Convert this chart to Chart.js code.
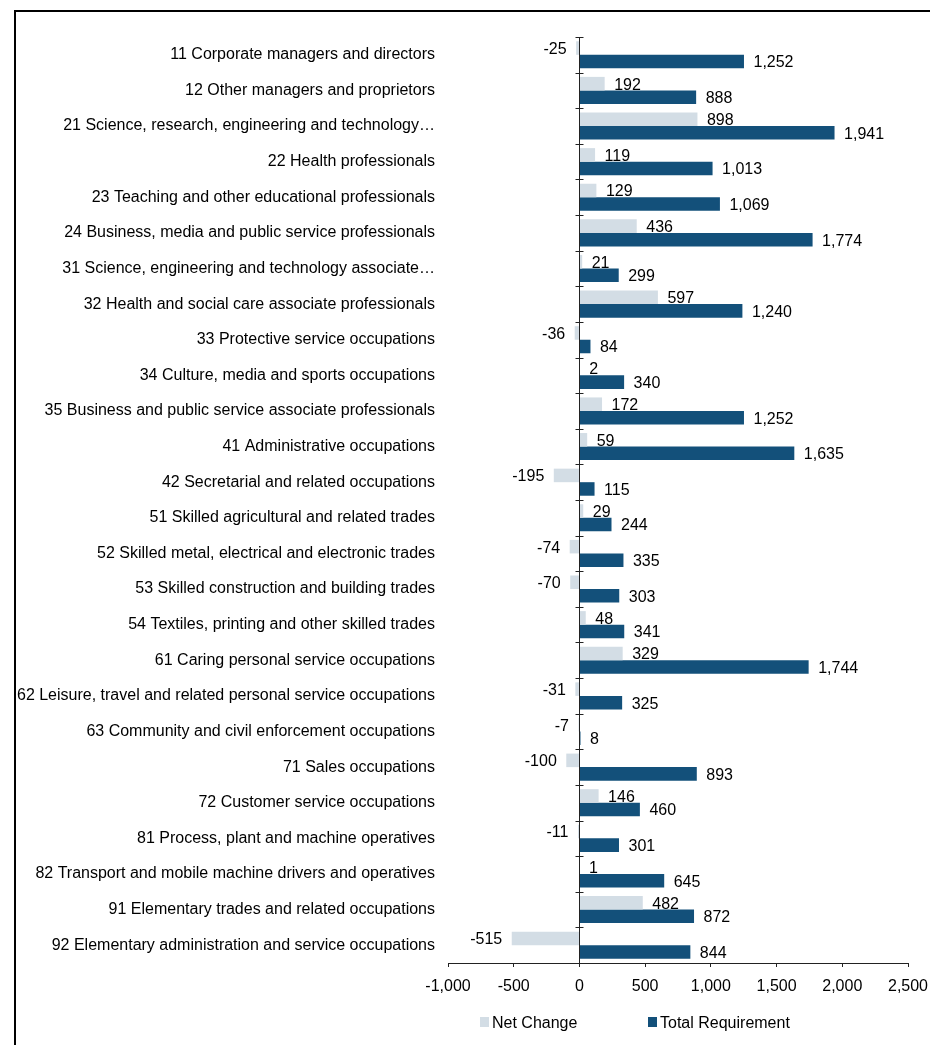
<!DOCTYPE html>
<html>
<head>
<meta charset="utf-8">
<script src="https://cdn.jsdelivr.net/npm/chart.js@4.4.1/dist/chart.umd.min.js"></script>
<style>
  body { margin: 0; background: #fff; overflow: hidden; font-family: 'Liberation Sans', Arial, sans-serif; }
  #frame { position: absolute; left: 14px; top: 10px; width: 1000px; height: 1100px; border-top: 2px solid #000; border-left: 2px solid #000; }
  #wrap { position: absolute; left: 0; top: 0; width: 930px; height: 1045px; }
  .lg-box { position: absolute; top: 1017px; width: 9px; height: 10px; }
  .lg-text { position: absolute; top: 1014px; font-size: 16px; line-height: 18px; color: #000; white-space: nowrap; }
</style>
</head>
<body>
<div id="frame"></div>
<div id="wrap"><canvas id="chart" width="930" height="1045"></canvas></div>
<div id="legend"></div>
<script>
// 数据
const categories = [
  '11 Corporate managers and directors',
  '12 Other managers and proprietors',
  '21 Science, research, engineering and technology\u2026',
  '22 Health professionals',
  '23 Teaching and other educational professionals',
  '24 Business, media and public service professionals',
  '31 Science, engineering and technology associate\u2026',
  '32 Health and social care associate professionals',
  '33 Protective service occupations',
  '34 Culture, media and sports occupations',
  '35 Business and public service associate professionals',
  '41 Administrative occupations',
  '42 Secretarial and related occupations',
  '51 Skilled agricultural and related trades',
  '52 Skilled metal, electrical and electronic trades',
  '53 Skilled construction and building trades',
  '54 Textiles, printing and other skilled trades',
  '61 Caring personal service occupations',
  '62 Leisure, travel and related personal service occupations',
  '63 Community and civil enforcement occupations',
  '71 Sales occupations',
  '72 Customer service occupations',
  '81 Process, plant and machine operatives',
  '82 Transport and mobile machine drivers and operatives',
  '91 Elementary trades and related occupations',
  '92 Elementary administration and service occupations'
];
const netChange = [-25, 192, 898, 119, 129, 436, 21, 597, -36, 2, 172, 59, -195, 29, -74, -70, 48, 329, -31, -7, -100, 146, -11, 1, 482, -515];
const totalRequirement = [1252, 888, 1941, 1013, 1069, 1774, 299, 1240, 84, 340, 1252, 1635, 115, 244, 335, 303, 341, 1744, 325, 8, 893, 460, 301, 645, 872, 844];
const seriesNames = ['Net Change', 'Total Requirement'];
const seriesColors = ['#d3dde5', '#13507a'];
const xTicks = [-1000, -500, 0, 500, 1000, 1500, 2000, 2500];

const FONT = "'Liberation Sans', Arial, sans-serif";
const fmt = v => v.toLocaleString('en-US');

// 数据标签
const barLabels = {
  id: 'barLabels',
  afterDatasetsDraw(chart) {
    const ctx = chart.ctx;
    ctx.save();
    ctx.font = '16px ' + FONT;
    ctx.fillStyle = '#000';
    ctx.textBaseline = 'middle';
    chart.data.datasets.forEach((ds, di) => {
      chart.getDatasetMeta(di).data.forEach((bar, i) => {
        const v = ds.data[i];
        if (v < 0) {
          ctx.textAlign = 'right';
          ctx.fillText(fmt(v), bar.x - 9.5, bar.y + 1.5);
        } else {
          ctx.textAlign = 'left';
          ctx.fillText(fmt(v), bar.x + 9.5, bar.y + 1.5);
        }
      });
    });
    ctx.restore();
  }
};

// 零点处的分类轴和刻度
const zeroAxis = {
  id: 'zeroAxis',
  afterDatasetsDraw(chart) {
    const { ctx, chartArea, scales } = chart;
    const x0 = Math.round(scales.x.getPixelForValue(0)) + 0.5;
    const step = (chartArea.bottom - chartArea.top) / categories.length;
    ctx.save();
    ctx.strokeStyle = '#222';
    ctx.lineWidth = 1;
    ctx.beginPath();
    ctx.moveTo(x0, chartArea.top);
    ctx.lineTo(x0, chartArea.bottom);
    for (let i = 0; i < categories.length; i++) {
      const yy = Math.round(chartArea.top + i * step) + 0.5;
      ctx.moveTo(x0 - 4, yy);
      ctx.lineTo(x0 + 4, yy);
    }
    ctx.stroke();
    ctx.restore();
  }
};

new Chart(document.getElementById('chart'), {
  type: 'bar',
  data: {
    labels: categories,
    datasets: [
      { label: seriesNames[0], data: netChange, backgroundColor: seriesColors[0] },
      { label: seriesNames[1], data: totalRequirement, backgroundColor: seriesColors[1] }
    ]
  },
  options: {
    indexAxis: 'y',
    responsive: false,
    animation: false,
    layout: { padding: { top: 37, right: 22, bottom: 42, left: 0 } },
    datasets: { bar: { categoryPercentage: 0.76, barPercentage: 1 } },
    scales: {
      x: {
        min: xTicks[0],
        max: xTicks[xTicks.length - 1],
        afterBuildTicks(scale) { scale.ticks = xTicks.map(v => ({ value: v })); },
        afterFit(scale) { scale.paddingLeft = 0; scale.paddingRight = 0; scale.height = 40; },
        grid: { drawOnChartArea: false, drawTicks: true, tickLength: 4, color: '#222' },
        border: { display: true, color: '#222', width: 1 },
        ticks: { color: '#000', font: { size: 16, family: FONT }, padding: 10, maxRotation: 0, callback: v => fmt(v) }
      },
      y: {
        grid: { display: false, drawTicks: false },
        border: { display: false },
        ticks: { color: '#000', font: { size: 16, family: FONT }, padding: 13, autoSkip: false },
        afterFit(scale) { scale.width = 448; }
      }
    },
    plugins: {
      legend: { display: false },
      tooltip: { enabled: false }
    }
  },
  plugins: [barLabels, zeroAxis]
});

// 图例
const legendPos = [[480, 492], [648, 660]];
const legend = document.getElementById('legend');
seriesNames.forEach((name, i) => {
  const box = document.createElement('div');
  box.className = 'lg-box';
  box.style.left = legendPos[i][0] + 'px';
  box.style.background = seriesColors[i];
  const txt = document.createElement('div');
  txt.className = 'lg-text';
  txt.style.left = legendPos[i][1] + 'px';
  txt.textContent = name;
  legend.appendChild(box);
  legend.appendChild(txt);
});
</script>
</body>
</html>
